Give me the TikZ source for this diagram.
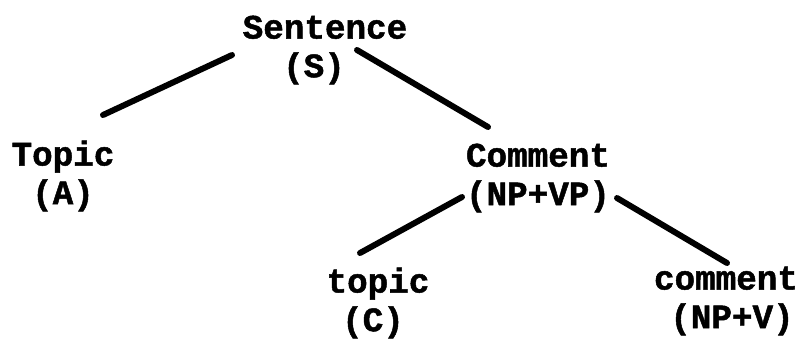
\documentclass[tikz,border=0pt]{standalone}
\usepackage{fontspec}
\newfontfamily\typewr{Liberation Mono}[BoldFeatures={FakeBold=1.4}]
\usepackage{tikz}
\usetikzlibrary{positioning}
\tikzset{
  branch/.style={line width=3.4pt,line cap=round},
  label/.style={align=center,inner sep=0pt,font=\typewr\bfseries\fontsize{19.5}{22}\selectfont}
}
\begin{document}
\begin{tikzpicture}
  \useasboundingbox (0,0) rectangle (16,-6.78);
  % tree labels
  \node[label] (sent) at (6.5,-1.0) {Sentence\\\hspace*{-0.44cm}(S)};
  \node[label] (topA) at (1.26,-3.52) {Topic\\(A)};
  \node[label] (comm) at (10.76,-3.56) {Comment\\(NP+VP)};
  \node[label] (topC) at (7.56,-6.06) {topic\\\hspace*{-0.2cm}(C)};
  \node[label] (comV) at (14.52,-6.02) {comment\\\hspace*{0.24cm}(NP+V)};
  % branches
  \draw[branch] ([shift={(-1.86,-0.1)}]sent.center) -- ([shift={(0.8,1.22)}]topA.center);
  \draw[branch] ([shift={(0.64,0)}]sent.center) -- ([shift={(-1.0,1.02)}]comm.center);
  \draw[branch] ([shift={(-1.52,-0.38)}]comm.center) -- ([shift={(-0.36,1.0)}]topC.center);
  \draw[branch] ([shift={(1.58,-0.4)}]comm.center) -- ([shift={(0.02,0.76)}]comV.center);
\end{tikzpicture}
\end{document}
